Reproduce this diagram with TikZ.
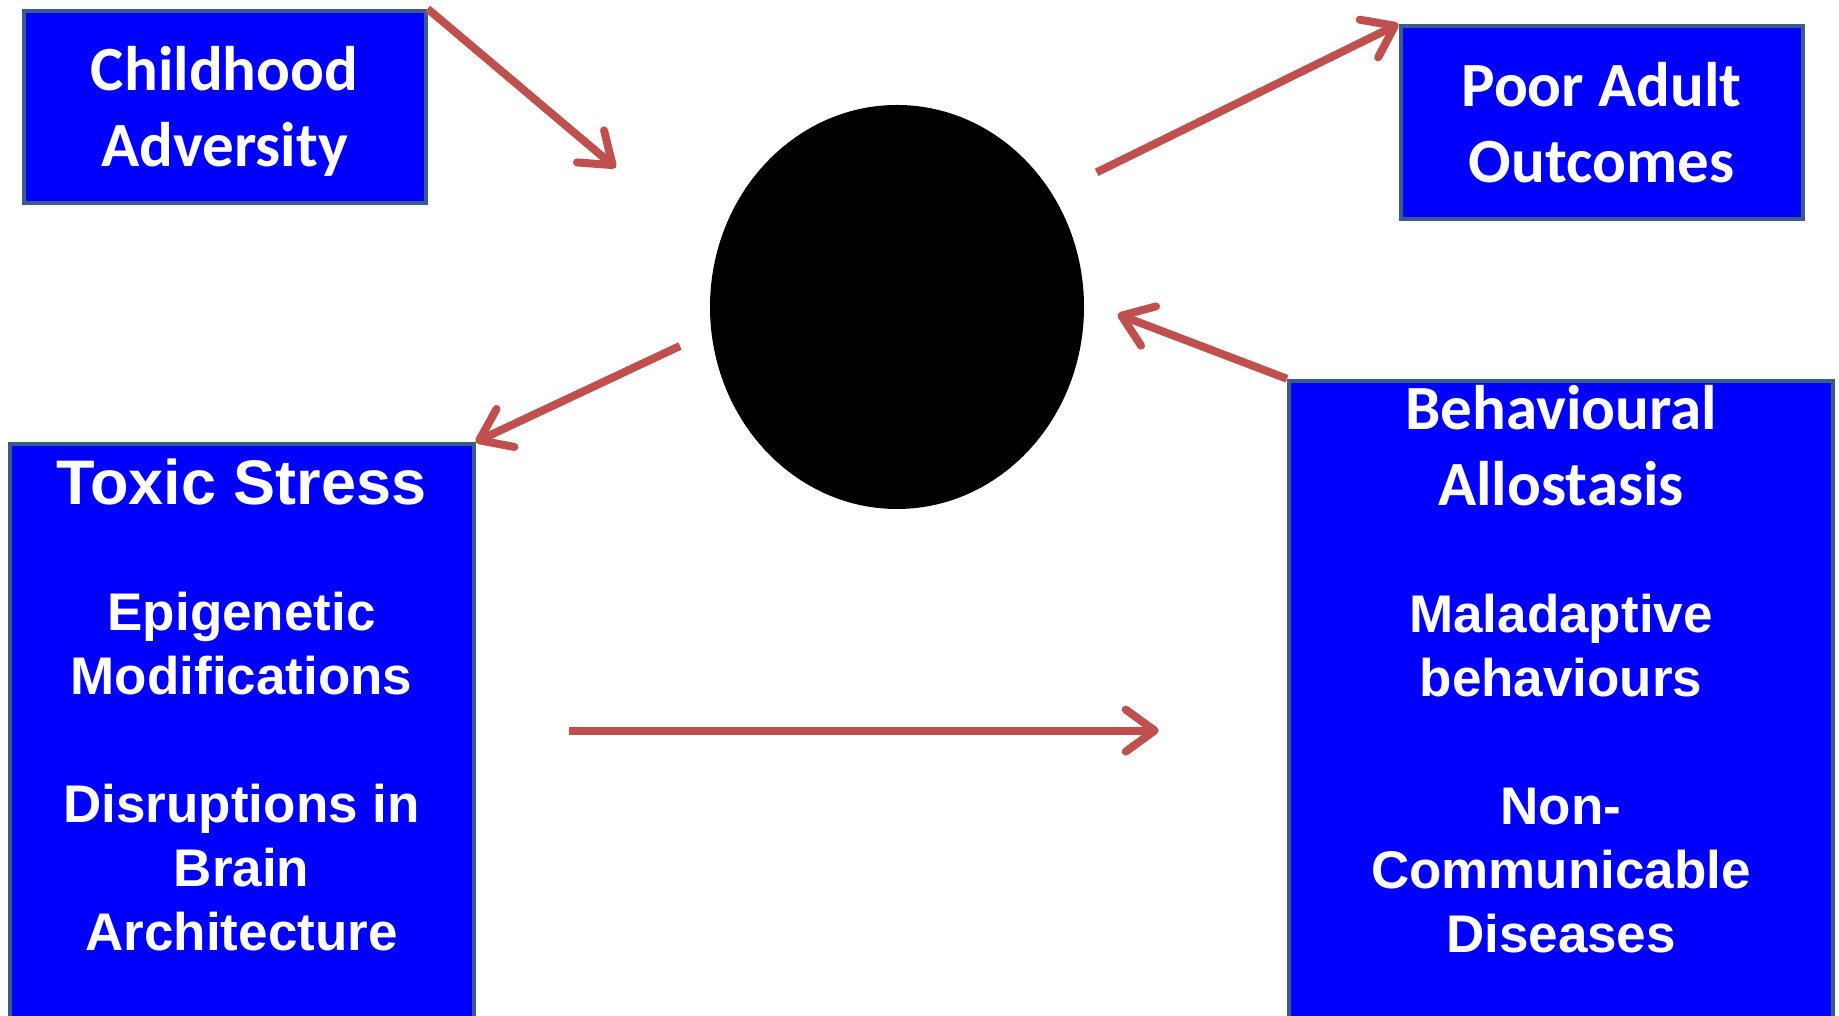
\documentclass[tikz,border=0pt]{standalone}
\usepackage{fontspec}
\setmainfont{Liberation Sans}
\newfontfamily\calib{Carlito}
\usepackage{tikz}
\usetikzlibrary{arrows.meta,positioning,shapes.geometric}
\definecolor{boxblue}{HTML}{0000FF}
\definecolor{boxline}{HTML}{385D8A}
\definecolor{arred}{HTML}{C0504D}

\begin{document}
\begin{tikzpicture}[x=1pt,y=1pt,
  box/.style={draw=boxline,line width=4pt,fill=boxblue,inner sep=0pt},
  head/.style={text=white,align=center,inner sep=0pt,font=\calib\bfseries\fontsize{63}{76}\selectfont},
  title/.style={text=white,align=center,inner sep=0pt,font=\bfseries\fontsize{63}{76}\selectfont},
  body/.style={text=white,align=center,inner sep=0pt,font=\bfseries\fontsize{53}{64}\selectfont},
  ar/.style={-{Straight Barb[length=29pt,width=42pt,round]},line width=8pt,draw=arred}]
\clip (0,0) rectangle (1839,1016);
% --- top row: adversity -> ellipse -> adult outcomes ---
\node[box,head,text depth=0pt,minimum width=402pt,minimum height=192pt] (adv) at (224.6,909.2) {Childhood\\Adversity};
\node[ellipse,fill=black,inner sep=0pt,minimum width=374pt,minimum height=404pt] (ell) at (897,709) {};
\node[box,head,minimum width=402pt,minimum height=193pt] (poor) at (1601.5,893.5) {Poor Adult\\Outcomes};
% --- lower boxes (run off the bottom edge) ---
\node[box,anchor=north,minimum width=464pt,minimum height=640pt] (tox) at (241.6,574) {};
\node[title,below=17pt of tox.north] (toxT) {Toxic Stress};
\node[body,below=150pt of tox.north] (toxB)
  {Epigenetic\\Modifications\\[64pt]Disruptions in\\Brain\\Architecture};
\node[box,anchor=north,minimum width=544pt,minimum height=700pt] (beh) at (1561,637.2) {};
\node[head,below=6pt of beh.north] (behT) {Behavioural\\Allostasis};
\node[body,below=215pt of beh.north] (behB)
  {Maladaptive\\behaviours\\[64pt]Non-\\Communicable\\Diseases};
% --- connectors ---
\coordinate (advTip) at (615.7,848.3);
\coordinate (poorTail) at (1096.6,843.6);
\coordinate (toxTail) at (680,670);
\coordinate (behTip) at (1117.7,701.7);
\coordinate (midTail) at (568.8,285.4);
\coordinate (midTip) at (1158.7,285.4);
\draw[ar] (adv.north east) -- (advTip);
\draw[ar] (poorTail) -- (poor.north west);
\draw[ar] (toxTail) -- (tox.north east);
\draw[ar] (beh.north west) -- (behTip);
\draw[ar] (midTail) -- (midTip);
\end{tikzpicture}
\end{document}
